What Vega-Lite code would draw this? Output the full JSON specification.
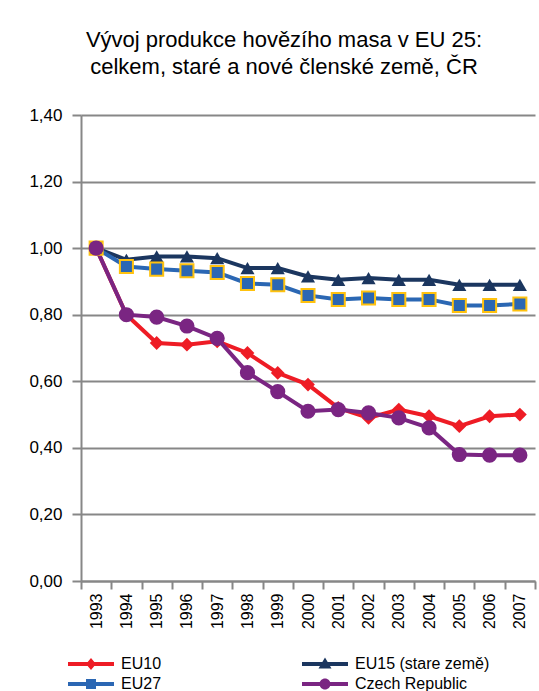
{
  "$schema": "https://vega.github.io/schema/vega-lite/v6.json",
  "width": 454,
  "height": 466,
  "autosize": {"type": "none"},
  "padding": {"left": 81, "top": 115, "right": 4, "bottom": 110},
  "background": "white",
  "title": {
    "text": ["Vývoj produkce hovězího masa v EU 25:", "celkem, staré a nové členské země, ČR"],
    "font": "Liberation Sans",
    "fontSize": 22,
    "fontWeight": "normal",
    "color": "black",
    "anchor": "middle",
    "lineHeight": 27,
    "offset": 27,
    "dx": -24
  },
  "config": {
    "view": {"stroke": null},
    "legend": {"labelFont": "Liberation Sans", "labelFontSize": 16, "labelColor": "black"}
  },
  "data": {
    "values": [
      {"year": "1993", "series": "EU10", "value": 1.0},
      {"year": "1994", "series": "EU10", "value": 0.80},
      {"year": "1995", "series": "EU10", "value": 0.715},
      {"year": "1996", "series": "EU10", "value": 0.71},
      {"year": "1997", "series": "EU10", "value": 0.72},
      {"year": "1998", "series": "EU10", "value": 0.685},
      {"year": "1999", "series": "EU10", "value": 0.625},
      {"year": "2000", "series": "EU10", "value": 0.59},
      {"year": "2001", "series": "EU10", "value": 0.52},
      {"year": "2002", "series": "EU10", "value": 0.49},
      {"year": "2003", "series": "EU10", "value": 0.515},
      {"year": "2004", "series": "EU10", "value": 0.495},
      {"year": "2005", "series": "EU10", "value": 0.465},
      {"year": "2006", "series": "EU10", "value": 0.495},
      {"year": "2007", "series": "EU10", "value": 0.50},
      {"year": "1993", "series": "EU15 (stare země)", "value": 1.0},
      {"year": "1994", "series": "EU15 (stare země)", "value": 0.965},
      {"year": "1995", "series": "EU15 (stare země)", "value": 0.975},
      {"year": "1996", "series": "EU15 (stare země)", "value": 0.975},
      {"year": "1997", "series": "EU15 (stare země)", "value": 0.97},
      {"year": "1998", "series": "EU15 (stare země)", "value": 0.94},
      {"year": "1999", "series": "EU15 (stare země)", "value": 0.94},
      {"year": "2000", "series": "EU15 (stare země)", "value": 0.915},
      {"year": "2001", "series": "EU15 (stare země)", "value": 0.905},
      {"year": "2002", "series": "EU15 (stare země)", "value": 0.91},
      {"year": "2003", "series": "EU15 (stare země)", "value": 0.905},
      {"year": "2004", "series": "EU15 (stare země)", "value": 0.905},
      {"year": "2005", "series": "EU15 (stare země)", "value": 0.89},
      {"year": "2006", "series": "EU15 (stare země)", "value": 0.89},
      {"year": "2007", "series": "EU15 (stare země)", "value": 0.89},
      {"year": "1993", "series": "EU27", "value": 1.0},
      {"year": "1994", "series": "EU27", "value": 0.945},
      {"year": "1995", "series": "EU27", "value": 0.937},
      {"year": "1996", "series": "EU27", "value": 0.932},
      {"year": "1997", "series": "EU27", "value": 0.927},
      {"year": "1998", "series": "EU27", "value": 0.894},
      {"year": "1999", "series": "EU27", "value": 0.89},
      {"year": "2000", "series": "EU27", "value": 0.858},
      {"year": "2001", "series": "EU27", "value": 0.846},
      {"year": "2002", "series": "EU27", "value": 0.85},
      {"year": "2003", "series": "EU27", "value": 0.846},
      {"year": "2004", "series": "EU27", "value": 0.846},
      {"year": "2005", "series": "EU27", "value": 0.828},
      {"year": "2006", "series": "EU27", "value": 0.828},
      {"year": "2007", "series": "EU27", "value": 0.832},
      {"year": "1993", "series": "Czech Republic", "value": 1.0},
      {"year": "1994", "series": "Czech Republic", "value": 0.80},
      {"year": "1995", "series": "Czech Republic", "value": 0.793},
      {"year": "1996", "series": "Czech Republic", "value": 0.766},
      {"year": "1997", "series": "Czech Republic", "value": 0.729},
      {"year": "1998", "series": "Czech Republic", "value": 0.626},
      {"year": "1999", "series": "Czech Republic", "value": 0.569},
      {"year": "2000", "series": "Czech Republic", "value": 0.51},
      {"year": "2001", "series": "Czech Republic", "value": 0.515},
      {"year": "2002", "series": "Czech Republic", "value": 0.505},
      {"year": "2003", "series": "Czech Republic", "value": 0.49},
      {"year": "2004", "series": "Czech Republic", "value": 0.46},
      {"year": "2005", "series": "Czech Republic", "value": 0.38},
      {"year": "2006", "series": "Czech Republic", "value": 0.378},
      {"year": "2007", "series": "Czech Republic", "value": 0.378}
    ]
  },
  "encoding": {
    "x": {
      "field": "year",
      "type": "ordinal",
      "bandPosition": 0.5,
      "scale": {"type": "band", "paddingInner": 0, "paddingOuter": 0},
      "axis": {
        "title": null,
        "labelAngle": -90,
        "labelFont": "Liberation Sans",
        "labelFontSize": 16,
        "labelColor": "black",
        "labelPadding": 4,
        "tickBand": "extent",
        "tickSize": 8,
        "tickColor": "#878787",
        "tickWidth": 2,
        "domainColor": "#878787",
        "domainWidth": 2,
        "grid": false
      }
    },
    "y": {
      "field": "value",
      "type": "quantitative",
      "scale": {"domain": [0, 1.4], "nice": false},
      "axis": {
        "title": null,
        "values": [0, 0.2, 0.4, 0.6, 0.8, 1.0, 1.2, 1.4],
        "labelExpr": "replace(format(datum.value, '.2f'), '.', ',')",
        "labelFont": "Liberation Sans",
        "labelFontSize": 17,
        "labelColor": "black",
        "labelPadding": 10,
        "tickSize": 9,
        "tickColor": "#878787",
        "tickWidth": 2,
        "domainColor": "#878787",
        "domainWidth": 2,
        "grid": true,
        "gridColor": "#878787",
        "gridWidth": 2
      }
    }
  },
  "layer": [
    {
      "mark": {"type": "point", "filled": true, "fillOpacity": 0, "strokeOpacity": 0},
      "encoding": {
        "shape": {
          "field": "series",
          "type": "nominal",
          "scale": {
            "domain": ["EU10", "EU15 (stare země)", "EU27", "Czech Republic"],
            "range": [
              "M-2.3,-0.2H2.3V0.2H-2.3Z M0,-0.6L0.5,0L0,0.6L-0.5,0Z",
              "M-2.3,-0.2H2.3V0.2H-2.3Z M0,-0.65L0.65,0.45L-0.65,0.45Z",
              "M-2.3,-0.2H2.3V0.2H-2.3Z M-0.5,-0.5H0.5V0.5H-0.5Z",
              "M-2.3,-0.2H2.3V0.2H-2.3Z M-0.55,0A0.55,0.55,0,1,1,0.55,0A0.55,0.55,0,1,1,-0.55,0Z"
            ]
          },
          "legend": {
            "title": null,
            "orient": "bottom",
            "direction": "horizontal",
            "columns": 2,
            "columnPadding": 140,
            "rowPadding": 2,
            "symbolSize": 400,
            "symbolStrokeWidth": 0,
            "symbolOpacity": 1,
            "labelOffset": 20,
            "offset": 25,
            "padding": 0
          }
        },
        "fill": {
          "field": "series",
          "type": "nominal",
          "scale": {
            "domain": ["EU10", "EU15 (stare země)", "EU27", "Czech Republic"],
            "range": ["#EE1C25", "#1B365F", "#2B67B3", "#7A2582"]
          },
          "legend": {
            "title": null,
            "orient": "bottom",
            "direction": "horizontal",
            "columns": 2,
            "columnPadding": 140,
            "rowPadding": 2,
            "symbolSize": 400,
            "symbolStrokeWidth": 0,
            "labelOffset": 20,
            "offset": 25,
            "padding": 0
          }
        }
      }
    },
    {
      "mark": {"type": "line", "strokeWidth": 4},
      "encoding": {
        "color": {
          "field": "series",
          "type": "nominal",
          "scale": {
            "domain": ["EU10", "EU15 (stare země)", "EU27", "Czech Republic"],
            "range": ["#EE1C25", "#1B365F", "#2B67B3", "#7A2582"]
          },
          "legend": null
        }
      }
    },
    {
      "transform": [{"filter": "datum.series === 'EU10'"}],
      "mark": {"type": "point", "shape": "diamond", "filled": true, "size": 190, "color": "#EE1C25", "opacity": 1}
    },
    {
      "transform": [{"filter": "datum.series === 'EU15 (stare země)'"}],
      "mark": {"type": "point", "shape": "triangle-up", "filled": true, "size": 200, "color": "#1B365F", "opacity": 1}
    },
    {
      "transform": [{"filter": "datum.series === 'EU27'"}],
      "mark": {"type": "point", "shape": "square", "filled": true, "size": 170, "fill": "#2B67B3", "stroke": "#FFC20E", "strokeWidth": 2, "opacity": 1}
    },
    {
      "transform": [{"filter": "datum.series === 'Czech Republic'"}],
      "mark": {"type": "point", "shape": "circle", "filled": true, "size": 230, "color": "#7A2582", "opacity": 1}
    }
  ]
}
